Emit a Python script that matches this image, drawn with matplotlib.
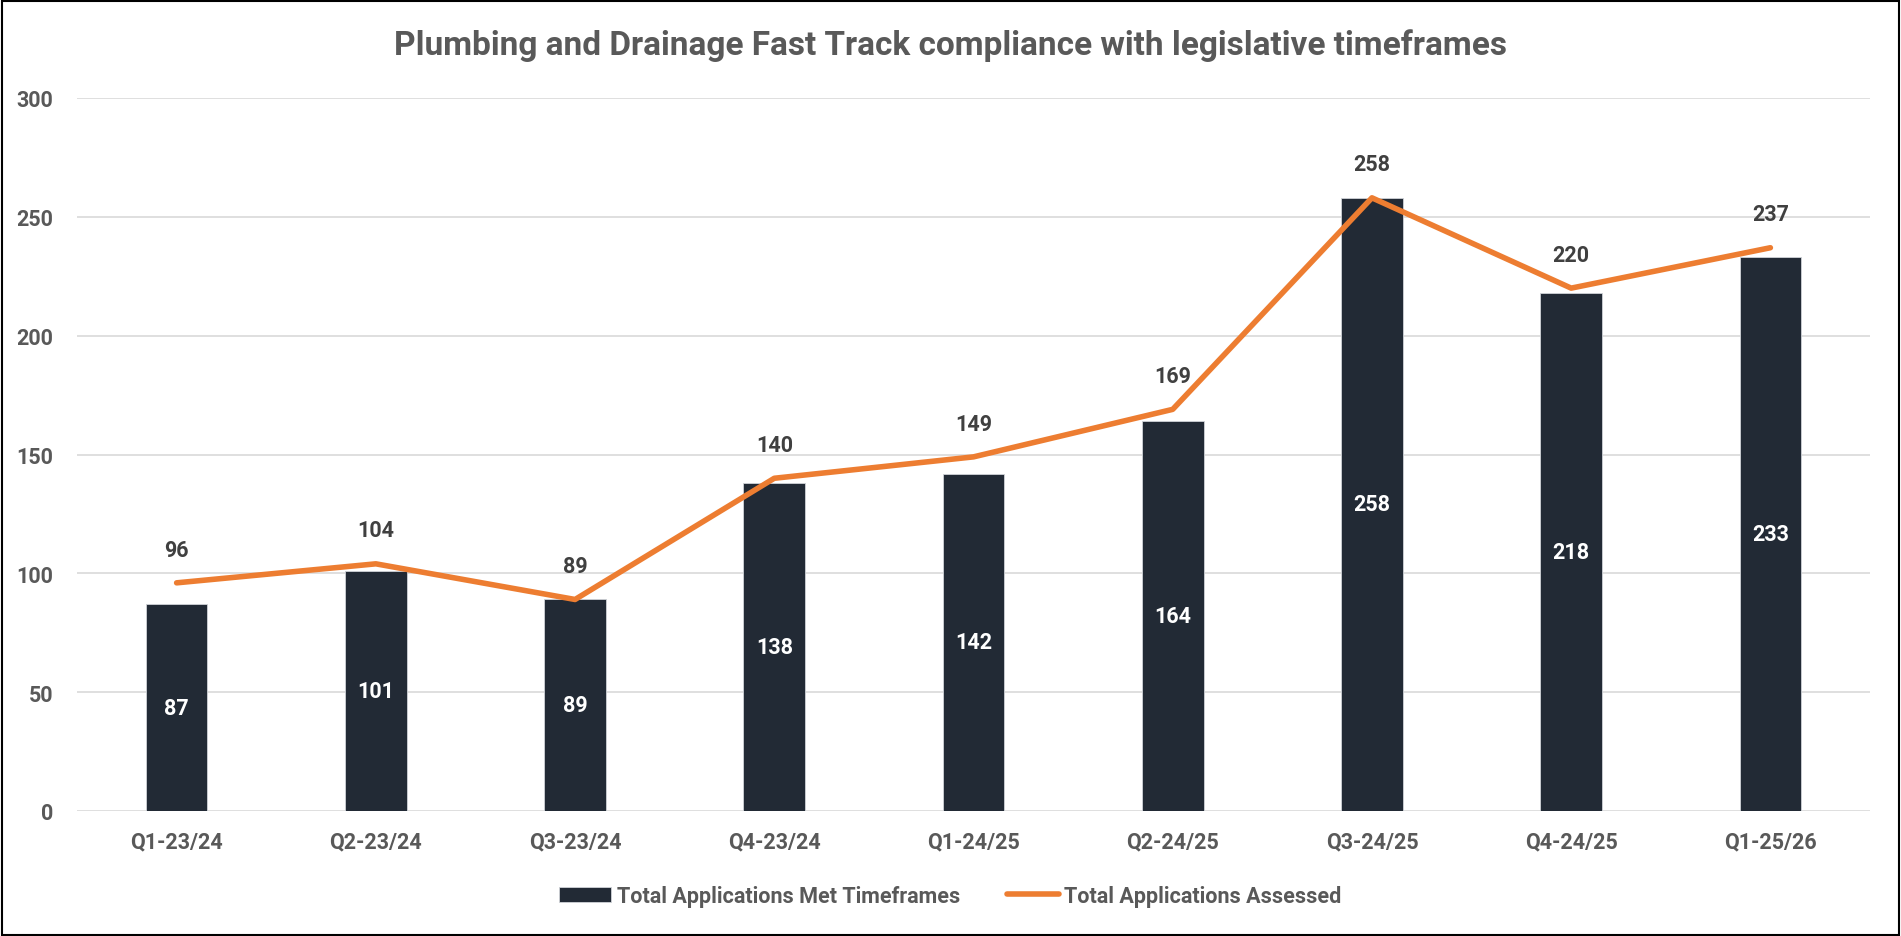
import matplotlib.pyplot as plt
from matplotlib.patches import Rectangle

# данные
quarters = ['Q1-23/24', 'Q2-23/24', 'Q3-23/24', 'Q4-23/24', 'Q1-24/25',
            'Q2-24/25', 'Q3-24/25', 'Q4-24/25', 'Q1-25/26']
met_timeframes = [87, 101, 89, 138, 142, 164, 258, 218, 233]
assessed = [96, 104, 89, 140, 149, 169, 258, 220, 237]

plt.rcParams['font.family'] = ['Roboto', 'DejaVu Sans']
plt.rcParams['font.weight'] = 'bold'

bar_color = '#222A35'
line_color = '#ED7D31'
grey = '#595959'

fig = plt.figure(figsize=(19.01, 9.37), dpi=100)
ax = fig.add_axes([77 / 1901, 1 - 812 / 937, (1870 - 77) / 1901, (812 - 99) / 937])

x = list(range(len(quarters)))
bars = ax.bar(x, met_timeframes, width=0.31, color=bar_color, edgecolor='#D0D3D8',
              linewidth=0.6, label='Total Applications Met Timeframes', zorder=2)
ax.plot(x, assessed, color=line_color, linewidth=4, solid_capstyle='round',
        label='Total Applications Assessed', zorder=3)

# подписи значений
for xi, v in zip(x, met_timeframes):
    ax.text(xi, v / 2, str(v), ha='center', va='center', color='white',
            fontsize=15.5, fontweight='bold', zorder=4)
for xi, v in zip(x, assessed):
    ax.annotate(str(v), (xi, v), xytext=(0, 24), textcoords='offset points',
                ha='center', va='center', color='#404040', fontsize=15.5,
                fontweight='bold', zorder=4)

ax.set_xlim(-0.5, len(quarters) - 0.5)
ax.set_ylim(0, 300)
ax.set_yticks(range(0, 301, 50))
ax.set_xticks(x)
ax.set_xticklabels(quarters)
ax.tick_params(axis='both', length=0, labelsize=15.5, labelcolor=grey)
ax.tick_params(axis='x', pad=14)
ax.tick_params(axis='y', pad=17)
for lbl in ax.get_xticklabels() + ax.get_yticklabels():
    lbl.set_fontweight('bold')
ax.grid(axis='y', color='#D9D9D9', linewidth=1.2, zorder=0)
ax.set_axisbelow(True)
for s in ax.spines.values():
    s.set_visible(False)

fig.text(0.5, 1 - 46 / 937, 'Plumbing and Drainage Fast Track compliance with legislative timeframes',
         ha='center', va='center', fontsize=24, fontweight='bold', color=grey)

handles, labels = ax.get_legend_handles_labels()
order = [labels.index('Total Applications Met Timeframes'),
         labels.index('Total Applications Assessed')]
fig.legend([handles[i] for i in order], [labels[i] for i in order],
           loc='center', bbox_to_anchor=(0.5, 1 - 897 / 937), ncol=2, frameon=False,
           prop={'size': 15.5, 'weight': 'bold'}, labelcolor=grey,
           handlelength=2.4, handletextpad=0.25, columnspacing=2.2)

fig.add_artist(Rectangle((0.001, 0.001), 0.998, 0.997, transform=fig.transFigure,
                         fill=False, edgecolor='black', linewidth=1.5))

plt.savefig('out.png', dpi=100)
plt.close()
